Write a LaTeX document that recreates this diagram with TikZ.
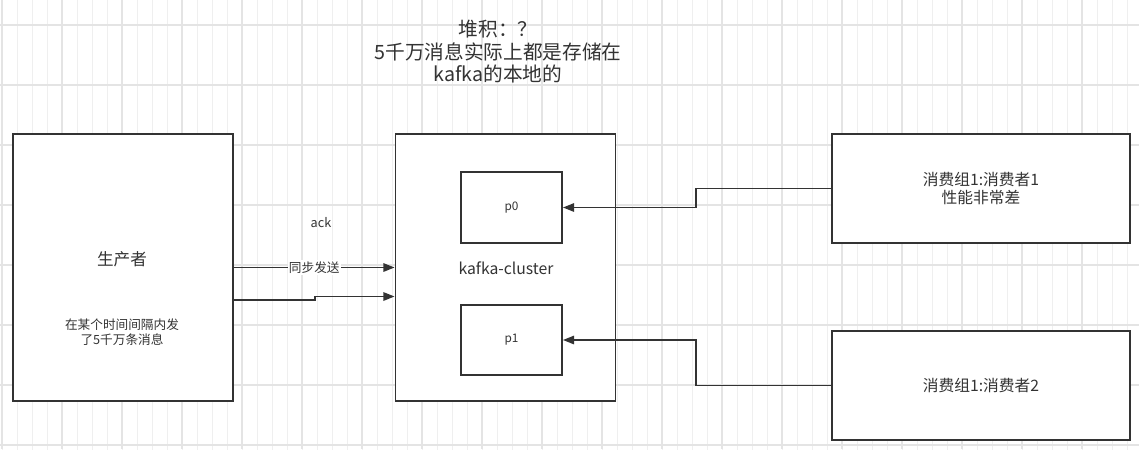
\documentclass[tikz,border=0pt]{standalone}
\usepackage{fontspec}
\setmainfont{Noto Sans CJK SC}
\usetikzlibrary{arrows.meta,positioning,calc}
\definecolor{ink}{HTML}{333333}
\definecolor{gridminor}{HTML}{EFEFEF}
\definecolor{gridmajor}{HTML}{E4E4E4}
\tikzset{
  box/.style={draw=ink,line width=1.3pt,fill=white,minimum width=#1},
  box/.default=5.5cm,
  txt/.style={text=ink,align=center,inner sep=1pt},
  arr/.style={draw=ink,line width=1.3pt,-{Triangle[length=8pt,width=6pt]}}
}
\begin{document}
\begin{tikzpicture}[x=0.025cm,y=-0.025cm]
\useasboundingbox (0,0) rectangle (1139,449);
\fill[white] (0,0) rectangle (1139,449);
% background grid
\begin{scope}[shift={(2,10)}]
\draw[gridminor,line width=0.6pt] (-15,-15) grid[step=15] (1140,450);
\end{scope}
\foreach \gx in {2,62,...,1142} \draw[gridmajor,line width=0.9pt] (\gx,0) -- (\gx,449);
\foreach \gy in {25,85,...,445} \draw[gridmajor,line width=0.9pt] (0,\gy) -- (1139,\gy);
% boxes
\node[box,minimum height=6.675cm] (producer) at (123,267.5) {};
\node[box,minimum height=6.675cm] (cluster) at (505.5,267.5) {};
\node[box=2.525cm,minimum height=1.775cm] (p0) at (511.5,207.5) {};
\node[box=2.525cm,minimum height=1.75cm] (p1) at (511.5,340) {};
\node[box=7.45cm,minimum height=2.725cm] (c1) at (981,188.5) {};
\node[box=7.45cm,minimum height=2.725cm] (c2) at (981,385.5) {};
% texts
\node[txt,font=\fontsize{14}{16}\selectfont] (title) at (498,52) {堆积：？\\5千万消息实际上都是存储在\\kafka的本地的};
\node[txt,font=\fontsize{11.8}{13}\selectfont] (pname) at (122,259) {生产者};
\node[txt,font=\fontsize{9}{11}\selectfont] (pnote) at (122,332) {在某个时间间隔内发\\了5千万条消息};
\node[txt,font=\fontsize{11.2}{12}\selectfont] (cname) at (506,268) {kafka-cluster};
\node[txt,font=\fontsize{8.4}{9}\selectfont] at (p0) {p0};
\node[txt,font=\fontsize{8.4}{9}\selectfont] at (p1) {p1};
\node[txt,font=\fontsize{11.2}{13.5}\selectfont] at (c1) {消费组1:消费者1\\性能非常差};
\node[txt,font=\fontsize{11.2}{12}\selectfont] at (c2) {消费组1:消费者2};
\node[txt,font=\fontsize{9}{10}\selectfont] (ack) at (321,223) {ack};
% connectors
\draw[arr] (producer.east) -- node[fill=white,txt,font=\fontsize{9}{10}\selectfont] {同步发送} (cluster.west);
\draw[arr] ([yshift=-0.8125cm]producer.east) -- ++(81,0) |- ([yshift=-0.725cm]cluster.west);
\draw[arr] (c1.west) -- ++(-135,0) |- (p0.east);
\draw[arr] (c2.west) -- ++(-135,0) |- (p1.east);
\end{tikzpicture}
\end{document}
